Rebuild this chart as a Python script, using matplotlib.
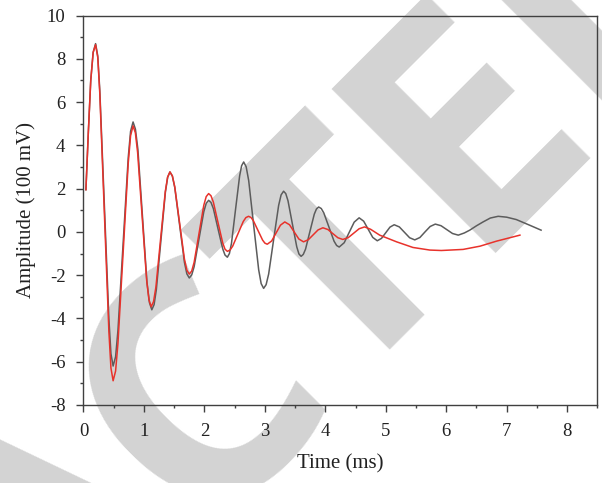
import matplotlib
matplotlib.use('Agg')
import matplotlib.pyplot as plt
from matplotlib.ticker import MultipleLocator
from matplotlib.transforms import IdentityTransform

plt.rcParams['font.family'] = 'Liberation Serif'
plt.rcParams['axes.unicode_minus'] = False

t_meas = [0.04, 0.08, 0.12, 0.16, 0.20, 0.236, 0.27, 0.345, 0.42, 0.454, 0.49, 0.531, 0.57,
          0.655, 0.74, 0.779, 0.82, 0.859, 0.90, 0.975, 1.05, 1.091, 1.13, 1.168, 1.205,
          1.28, 1.355, 1.393, 1.43, 1.47, 1.51, 1.59, 1.67, 1.71, 1.75, 1.79, 1.83, 1.91,
          1.99, 2.03, 2.07, 2.109, 2.148, 2.225, 2.303, 2.341, 2.38, 2.414, 2.448, 2.515,
          2.583, 2.616, 2.65, 2.691, 2.733, 2.815, 2.898, 2.939, 2.98, 3.021, 3.063, 3.145,
          3.228, 3.269, 3.31, 3.346, 3.383, 3.455, 3.528, 3.564, 3.60, 3.636, 3.673, 3.745,
          3.818, 3.854, 3.89, 3.933, 3.975, 4.06, 4.145, 4.188, 4.23, 4.313, 4.395, 4.478,
          4.56, 4.635, 4.71, 4.785, 4.86, 4.93, 5.00, 5.07, 5.14, 5.225, 5.31, 5.395, 5.48,
          5.565, 5.65, 5.735, 5.82, 5.915, 6.01, 6.105, 6.20, 6.30, 6.39, 6.50, 6.61,
          6.73, 6.86, 7.00, 7.16, 7.38, 7.57]
a_meas = [1.95, 4.6, 7.0, 8.3, 8.70, 8.13, 6.52, 1.25, -4.02, -5.63, -6.20, -5.77, -4.55,
          -0.56, 3.43, 4.65, 5.08, 4.75, 3.81, 0.74, -2.33, -3.27, -3.60, -3.36, -2.67,
          -0.415, 1.84, 2.53, 2.77, 2.58, 2.05, 0.32, -1.41, -1.94, -2.13, -1.99, -1.61, -0.335,
          0.93, 1.32, 1.46, 1.36, 1.08, 0.145, -0.78, -1.07, -1.17, -1.00, -0.53, 1.03,
          2.59, 3.06, 3.23, 3.01, 2.37, 0.31, -1.75, -2.39, -2.61, -2.44, -1.95, -0.365,
          1.22, 1.71, 1.88, 1.77, 1.44, 0.375, -0.69, -1.02, -1.13, -1.04, -0.80, 0.01,
          0.82, 1.06, 1.15, 1.08, 0.88, 0.225, -0.43, -0.63, -0.70, -0.50, -0.025, 0.45,
          0.65, 0.495, 0.12, -0.255, -0.41, -0.30, -0.04, 0.22, 0.33, 0.23, -0.02, -0.27, -0.37,
          -0.26, 0.0, 0.25, 0.36, 0.285, 0.105, -0.075, -0.15, -0.05, 0.08, 0.28, 0.46,
          0.64, 0.72, 0.68, 0.57, 0.31, 0.08]

# simulated signal (red)
t_sim = [0.04, 0.08, 0.12, 0.16, 0.20, 0.236, 0.27, 0.345, 0.42, 0.454, 0.49, 0.531, 0.57,
         0.655, 0.74, 0.779, 0.82, 0.858, 0.895, 0.97, 1.045, 1.083, 1.12, 1.159, 1.198,
         1.275, 1.353, 1.391, 1.43, 1.47, 1.51, 1.59, 1.67, 1.71, 1.75, 1.79, 1.83, 1.91,
         1.99, 2.03, 2.07, 2.109, 2.148, 2.225, 2.303, 2.341, 2.38, 2.424, 2.468, 2.555,
         2.643, 2.686, 2.73, 2.769, 2.808, 2.885, 2.963, 3.001, 3.04, 3.113, 3.185, 3.258,
         3.33, 3.408, 3.485, 3.563, 3.64, 3.72, 3.80, 3.88, 3.96, 4.043, 4.125, 4.208,
         4.29, 4.38, 4.47, 4.56, 4.65, 4.75, 4.90, 5.18, 5.45, 5.73, 5.92, 6.28, 6.56,
         6.83, 7.22]
a_sim = [1.95, 4.6, 7.0, 8.3, 8.65, 8.06, 6.38, 0.885, -4.60, -6.29, -6.88, -6.43, -5.15,
         -0.99, 3.17, 4.45, 4.90, 4.58, 3.68, 0.72, -2.24, -3.14, -3.46, -3.22, -2.55,
         -0.345, 1.86, 2.53, 2.77, 2.59, 2.08, 0.41, -1.26, -1.77, -1.95, -1.81, -1.41, -0.09,
         1.23, 1.63, 1.77, 1.67, 1.38, 0.435, -0.51, -0.80, -0.90, -0.84, -0.66, -0.09,
         0.48, 0.66, 0.72, 0.67, 0.53, 0.075, -0.38, -0.52, -0.57, -0.42, -0.055, 0.31,
         0.46, 0.33, 0.0, -0.33, -0.46, -0.36, -0.135, 0.09, 0.19, 0.11, -0.08, -0.27,
         -0.35, -0.265, -0.06, 0.145, 0.23, 0.12, -0.15, -0.46, -0.72, -0.84, -0.86, -0.81, -0.66,
         -0.43, -0.15]

stamp_letters = ['A', 'C', 'T', 'E', 'D']

fig = plt.figure(figsize=(6.02, 4.83), dpi=100)

# retraction stamp behind the plot, letter origins in picture pixels
stamp_pos = [(38.0, 692.0), (193.4, 534.5), (338.3, 393.6), (466.5, 253.2), (596.2, 123.5)]
for letter, (px, py) in zip(stamp_letters, stamp_pos):
    fig.text(px, 483 - py, letter, transform=IdentityTransform(), fontsize=235,
             family='Open Sans', fontweight='bold', color='#d3d3d3',
             rotation=45, rotation_mode='anchor', ha='left', va='baseline', zorder=-5)

ax = fig.add_axes([0.1387, 0.1615, 0.8535, 0.8064])
ax.patch.set_alpha(0)

ax.plot(t_meas, a_meas, color='#5c5c5c', lw=1.1)
ax.plot(t_sim, a_sim, color='#e8322b', lw=1.1)

ax.set_xlim(0, 8.5)
ax.set_ylim(-8, 10)
ax.xaxis.set_major_locator(MultipleLocator(1))
ax.xaxis.set_minor_locator(MultipleLocator(0.5))
ax.yaxis.set_major_locator(MultipleLocator(2))
ax.yaxis.set_minor_locator(MultipleLocator(1))
ax.tick_params(which='both', direction='out', width=1, color='#404040', labelsize=13.5,
               labelcolor='#222222', pad=8)
ax.tick_params(which='major', length=5)
ax.tick_params(which='minor', length=2.5)
for s in ax.spines.values():
    s.set_color('#404040')
    s.set_linewidth(1)

ax.set_xlabel('Time (ms)', fontsize=15, color='#222222', labelpad=10.4)
ax.set_ylabel('Amplitude (100 mV)', fontsize=15, color='#222222', labelpad=7.8)

plt.savefig('out.png', dpi=100)
plt.close(fig)
